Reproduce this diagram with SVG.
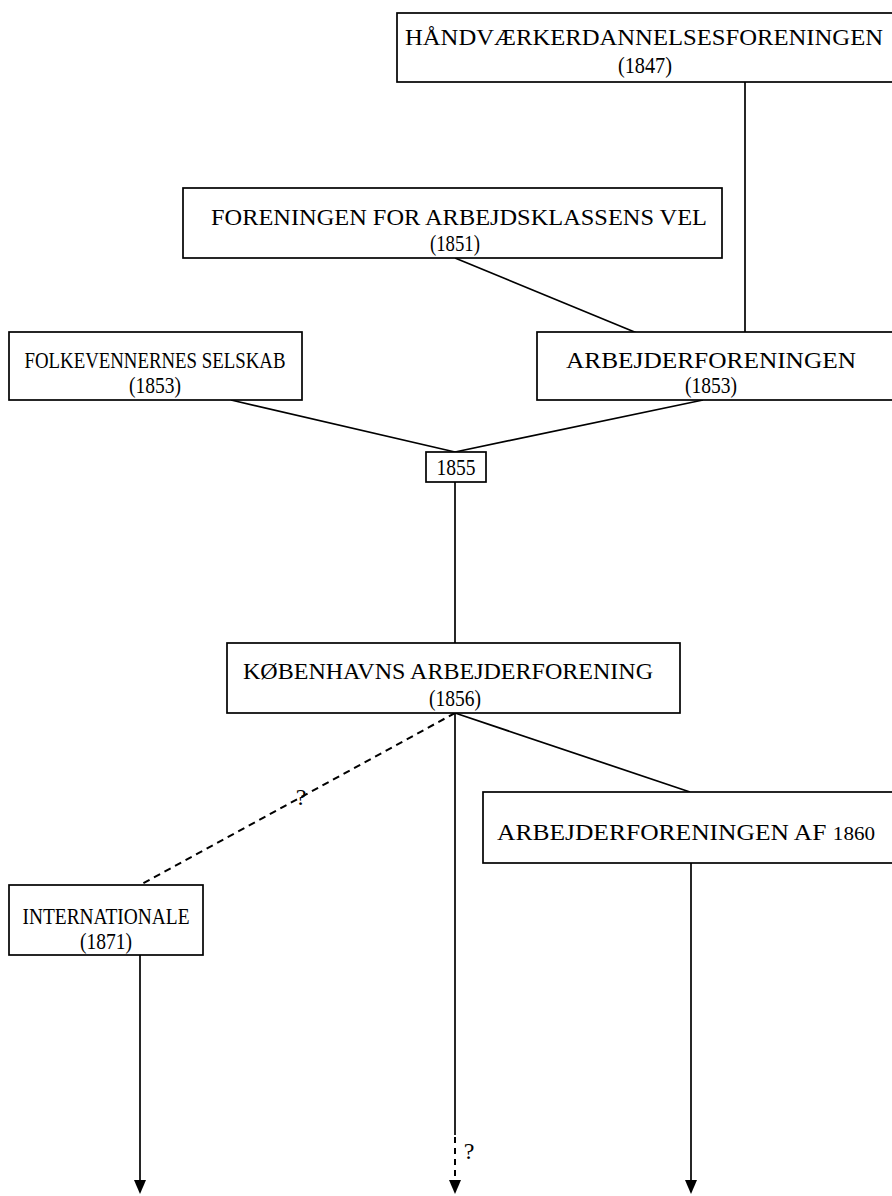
<svg xmlns="http://www.w3.org/2000/svg" width="892" height="1196" viewBox="0 0 892 1196">
<style>
.box{fill:#fff;stroke:#000;stroke-width:1.7}
.t{font-family:"Liberation Serif","Times New Roman",serif;font-size:23px;fill:#000;text-anchor:middle}
.q{font-size:24px}
.ln{stroke:#000;stroke-width:1.7;fill:none}
.dash{stroke:#000;stroke-width:2;fill:none;stroke-dasharray:7 5}
</style>
<defs>
<marker id="arr" markerWidth="14" markerHeight="12" refX="0" refY="6" orient="auto" markerUnits="userSpaceOnUse" viewBox="0 0 14 12">
<path d="M0,0 L14,6 L0,12 Z" fill="#000"/>
</marker>
</defs>
<rect width="892" height="1196" fill="#fff"/>
<g id="connectors">
<line class="ln" x1="745" y1="82" x2="745" y2="332"/>
<line class="ln" x1="455" y1="258" x2="637" y2="333"/>
<line class="ln" x1="231" y1="400" x2="455" y2="452"/>
<line class="ln" x1="703" y1="400" x2="455" y2="452"/>
<line class="ln" x1="455" y1="482" x2="455" y2="643"/>
<line class="dash" x1="455" y1="713" x2="140" y2="885"/>
<line class="ln" x1="455" y1="713" x2="690" y2="792"/>
<line class="ln" x1="455" y1="713" x2="455" y2="1135"/>
<line class="dash" x1="455" y1="1137" x2="455" y2="1180" marker-end="url(#arr)" style="stroke-dasharray:6 5"/>
<line class="ln" x1="691" y1="863" x2="691" y2="1180" marker-end="url(#arr)"/>
<line class="ln" x1="140" y1="955" x2="140" y2="1180" marker-end="url(#arr)"/>
<text class="t q" x="301" y="805">?</text>
<text class="t q" x="469" y="1159">?</text>
</g>
<g id="n1847">
<rect class="box" x="397" y="13" width="500" height="69"/>
<text class="t" x="644" y="45" textLength="478" lengthAdjust="spacingAndGlyphs">HÅNDVÆRKERDANNELSESFORENINGEN</text>
<text class="t" x="645" y="73" textLength="54" lengthAdjust="spacingAndGlyphs">(1847)</text>
</g>
<g id="n1851">
<rect class="box" x="183" y="188" width="539" height="70"/>
<text class="t" x="459" y="225" textLength="496" lengthAdjust="spacingAndGlyphs">FORENINGEN FOR ARBEJDSKLASSENS VEL</text>
<text class="t" x="455" y="251" textLength="50" lengthAdjust="spacingAndGlyphs">(1851)</text>
</g>
<g id="nFolke">
<rect class="box" x="9" y="332" width="293" height="68"/>
<text class="t" x="155" y="368" textLength="261" lengthAdjust="spacingAndGlyphs">FOLKEVENNERNES SELSKAB</text>
<text class="t" x="155" y="393" textLength="52" lengthAdjust="spacingAndGlyphs">(1853)</text>
</g>
<g id="nArb1853">
<rect class="box" x="537" y="332" width="360" height="68"/>
<text class="t" x="711" y="368" textLength="290" lengthAdjust="spacingAndGlyphs">ARBEJDERFORENINGEN</text>
<text class="t" x="711" y="393" textLength="52" lengthAdjust="spacingAndGlyphs">(1853)</text>
</g>
<g id="n1855">
<rect class="box" x="426" y="452" width="60" height="30"/>
<text class="t" x="456" y="475" textLength="39" lengthAdjust="spacingAndGlyphs">1855</text>
</g>
<g id="nKbh">
<rect class="box" x="227" y="643" width="453" height="70"/>
<text class="t" x="448" y="679" textLength="410" lengthAdjust="spacingAndGlyphs">KØBENHAVNS ARBEJDERFORENING</text>
<text class="t" x="455" y="706" textLength="52" lengthAdjust="spacingAndGlyphs">(1856)</text>
</g>
<g id="n1860">
<rect class="box" x="483" y="792" width="414" height="71"/>
<text class="t" x="686" y="840" textLength="378" lengthAdjust="spacingAndGlyphs">ARBEJDERFORENINGEN AF <tspan font-size="19">1860</tspan></text>
</g>
<g id="nIntl">
<rect class="box" x="9" y="885" width="194" height="70"/>
<text class="t" x="106" y="924" textLength="167" lengthAdjust="spacingAndGlyphs">INTERNATIONALE</text>
<text class="t" x="106" y="949" textLength="52" lengthAdjust="spacingAndGlyphs">(1871)</text>
</g>
</svg>
